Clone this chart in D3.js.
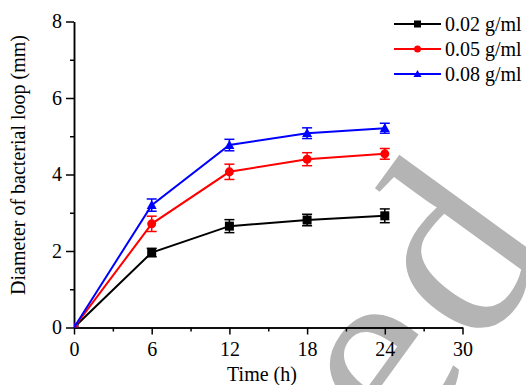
<html>
<head>
  <meta charset="UTF-8">
  <title>Bacterial loop diameter</title>
  <script src="https://d3js.org/d3.v7.min.js"></script>
  <style>
    body { margin: 0; background: #fff; }
    svg text { font-family: "Liberation Serif", "Times New Roman", serif !important; }
  </style>
</head>
<body>
  <svg id="chart" width="526" height="385"></svg>

  <script>
    // data
    const times = [0, 6, 12, 18, 24];
    const seriesNames = ["0.02 g/ml", "0.05 g/ml", "0.08 g/ml"];
    const seriesColors = ["#000000", "#ff0000", "#0000ff"];
    const seriesShapes = ["square", "circle", "triangle"];
    const low = [0, 1.96, 2.65, 2.81, 2.92];
    const mid = [0, 2.71, 4.07, 4.40, 4.54];
    const high = [0, 3.20, 4.77, 5.08, 5.21];
    const lowErr = [0, 0.11, 0.17, 0.15, 0.18];
    const midErr = [0, 0.20, 0.20, 0.17, 0.14];
    const highErr = [0, 0.16, 0.15, 0.14, 0.13];
    const xTicks = [0, 6, 12, 18, 24, 30];
    const xMinor = [3, 9, 15, 21, 27];
    const yTicks = [0, 2, 4, 6, 8];
    const yMinor = [1, 3, 5, 7];

    const serif = "'Liberation Serif', 'Times New Roman', serif";
    const svg = d3.select("#chart");

    const x = d3.scaleLinear([0, 30], [74, 462.5]);
    const y = d3.scaleLinear([0, 8], [327.5, 21.5]);

    // watermark behind everything
    const wm = svg.append("text")
       .attr("transform", "translate(557,247) rotate(-54)")
       .attr("text-anchor", "end")
       .attr("font-size", 262)
       .attr("fill", "#b4b4b4")
       .style("font-family", serif);
    wm.append("tspan").text("Accepte");
    wm.append("tspan").attr("dx", 12).text("d");

    // axes
    svg.append("g").attr("transform", `translate(0,${y(0)})`)
       .call(d3.axisBottom(x).tickValues(xTicks).tickSize(7).tickPadding(7).tickSizeOuter(0));
    svg.append("g").attr("transform", `translate(0,${y(0)})`)
       .call(d3.axisBottom(x).tickValues(xMinor).tickSize(4).tickFormat("").tickSizeOuter(0));

    svg.append("g").attr("transform", `translate(${x(0)},0)`)
       .call(d3.axisLeft(y).tickValues(yTicks).tickSize(8).tickPadding(4).tickSizeOuter(0));
    svg.append("g").attr("transform", `translate(${x(0)},0)`)
       .call(d3.axisLeft(y).tickValues(yMinor).tickSize(4).tickFormat("").tickSizeOuter(0));

    svg.selectAll(".domain, .tick line").attr("stroke", "#000").attr("stroke-width", 1.5);
    svg.selectAll(".tick text").attr("font-size", 20).attr("fill", "#000")
       .style("font-family", serif);

    svg.append("text")
       .attr("x", 262).attr("y", 381)
       .attr("text-anchor", "middle")
       .attr("font-size", 20)
       .style("font-family", serif)
       .text("Time (h)");

    svg.append("text")
       .attr("transform", "translate(25,165) rotate(-90)")
       .attr("text-anchor", "middle")
       .attr("font-size", 20)
       .style("font-family", serif)
       .text("Diameter of bacterial loop (mm)");

    // clip marks to plot area
    svg.append("clipPath").attr("id", "plotclip")
       .append("rect").attr("x", x(0)).attr("y", 0).attr("width", 526 - x(0)).attr("height", y(0));

    const values = [low, mid, high];
    const errors = [lowErr, midErr, highErr];

    function marker(sel, shape, size, color) {
      if (shape === "square") {
        sel.append("rect").attr("x", -size / 2).attr("y", -size / 2)
           .attr("width", size).attr("height", size).attr("fill", color);
      } else if (shape === "circle") {
        sel.append("circle").attr("r", size / 2).attr("fill", color);
      } else {
        const h = size * 0.95;
        sel.append("path")
           .attr("d", `M0,${-h * 0.6}L${size / 2 + 0.5},${h * 0.45}L${-size / 2 - 0.5},${h * 0.45}Z`)
           .attr("fill", color);
      }
    }

    const plot = svg.append("g").attr("clip-path", "url(#plotclip)");
    const line = d3.line().x(d => x(d.t)).y(d => y(d.v));

    values.forEach((vals, i) => {
      const pts = times.map((t, j) => ({ t: t, v: vals[j], e: errors[i][j] }));
      const color = seriesColors[i];
      const g = plot.append("g");

      g.append("path").datum(pts)
       .attr("d", line)
       .attr("fill", "none")
       .attr("stroke", color)
       .attr("stroke-width", 2);

      const bars = g.selectAll("g.err").data(pts.filter(d => d.e > 0)).join("g").attr("class", "err");
      bars.append("line")
          .attr("x1", d => x(d.t)).attr("x2", d => x(d.t))
          .attr("y1", d => y(d.v - d.e)).attr("y2", d => y(d.v + d.e));
      bars.append("line")
          .attr("x1", d => x(d.t) - 5).attr("x2", d => x(d.t) + 5)
          .attr("y1", d => y(d.v - d.e)).attr("y2", d => y(d.v - d.e));
      bars.append("line")
          .attr("x1", d => x(d.t) - 5).attr("x2", d => x(d.t) + 5)
          .attr("y1", d => y(d.v + d.e)).attr("y2", d => y(d.v + d.e));
      bars.selectAll("line").attr("stroke", color).attr("stroke-width", 1.5);

      g.selectAll("g.pt").data(pts).join("g").attr("class", "pt")
       .attr("transform", d => `translate(${x(d.t)},${y(d.v)})`)
       .each(function () { marker(d3.select(this), seriesShapes[i], 9, color); });
    });

    // legend
    const legend = svg.append("g");
    seriesNames.forEach((name, i) => {
      const ly = 24 + i * 25;
      const row = legend.append("g").attr("transform", `translate(394,${ly})`);
      row.append("line").attr("x1", 0).attr("x2", 47).attr("y1", 0).attr("y2", 0)
         .attr("stroke", seriesColors[i]).attr("stroke-width", 2);
      const m = row.append("g").attr("transform", "translate(23.5,0)");
      marker(m, seriesShapes[i], 7, seriesColors[i]);
      row.append("text").attr("x", 51).attr("y", 7)
         .attr("font-size", 20).attr("fill", "#000")
         .style("font-family", serif)
         .text(name);
    });
  </script>
</body>
</html>
